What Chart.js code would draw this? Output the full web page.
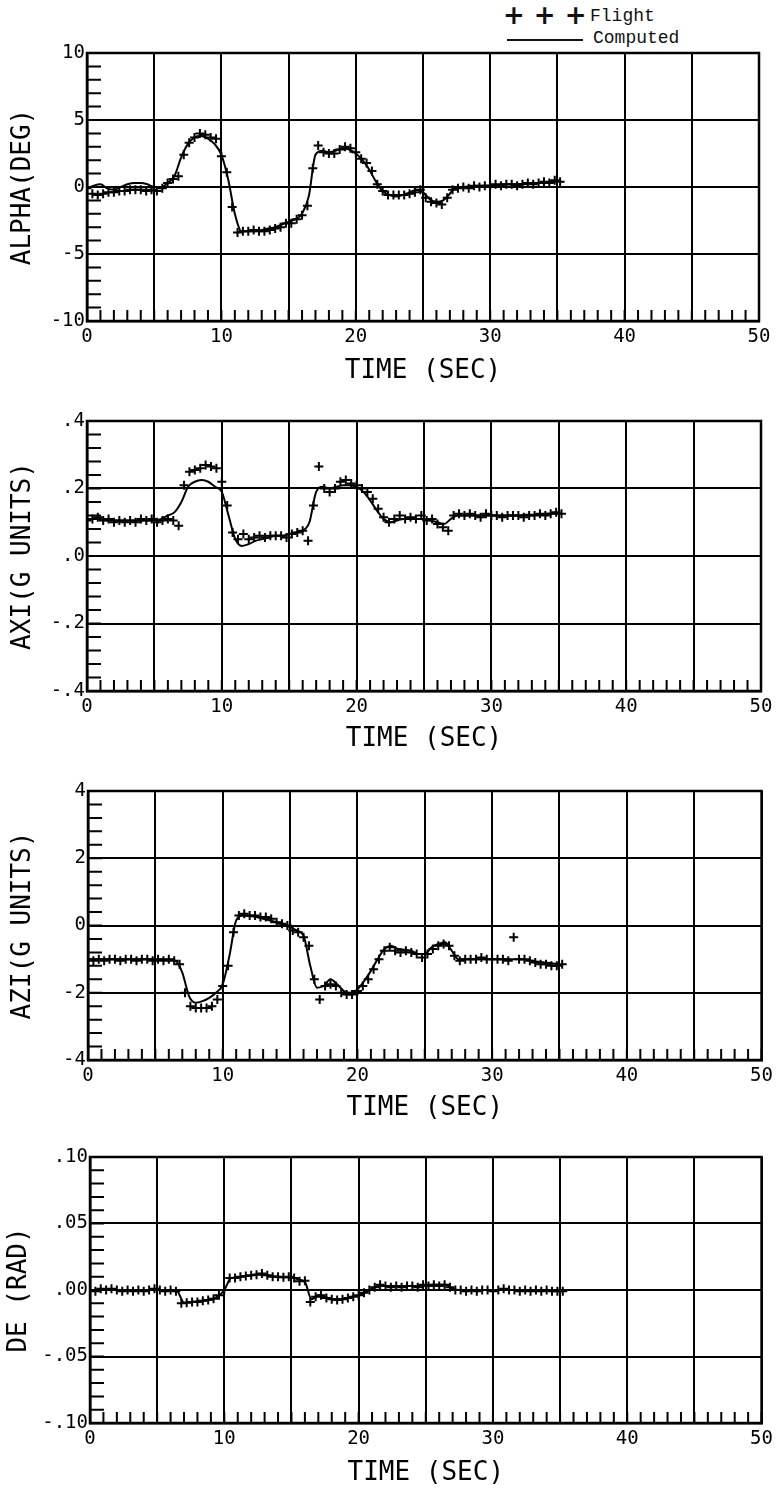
<!DOCTYPE html>
<html>
<head>
<meta charset="utf-8">
<script src="https://cdn.jsdelivr.net/npm/chart.js@4.4.1/dist/chart.umd.min.js"></script>
<style>
  html, body { margin: 0; padding: 0; background: #fff; }
  body { width: 778px; height: 1490px; overflow: hidden; position: relative; }
  canvas { position: absolute; left: 0; }
  .lg { position: absolute; color: #111; white-space: pre; }
  .lgtxt { font-family: 'Liberation Mono', 'DejaVu Sans Mono', monospace; font-size: 18px; line-height: 18px; }
  .plus { font-family: 'DejaVu Sans', sans-serif; font-weight: bold; font-size: 26px; line-height: 26px; }
  .lgline { position: absolute; height: 2px; background: #111; }
</style>
</head>
<body>
<div class="lg plus" style="left:503px;top:2px;">+ + +</div>
<div class="lg lgtxt" style="left:590px;top:7px;">Flight</div>
<div class="lgline" style="left:507px;top:39px;width:76px;"></div>
<div class="lg lgtxt" style="left:593px;top:29px;">Computed</div>

<script>
// ---------------- DATA ----------------
const TIME_FLIGHT = [0,0.4,0.8,1.2,1.6,2,2.4,2.8,3.2,3.6,4,4.4,4.8,5.2,5.6,6,6.4,6.8,7.2,7.6,
  8,8.4,8.8,9.2,9.6,10,10.4,10.8,11.2,11.6,12,12.4,12.8,13.2,13.6,14,14.4,14.8,15.2,15.6,
  16,16.4,16.8,17.2,17.6,18,18.4,18.8,19.2,19.6,20,20.4,20.8,21.2,21.6,22,22.4,22.8,23.2,23.6,
  24,24.4,24.8,25.2,25.6,26,26.4,26.8,27.2,27.6,28,28.4,28.8,29.2,29.6,30,30.4,30.8,31.2,31.6,
  32,32.4,32.8,33.2,33.6,34,34.4,34.8,35.2];

const TIME_COMPUTED = [0,0.5,1,1.5,2,2.5,3,3.5,4,4.5,5,5.5,6,6.5,7,7.5,8,8.5,9,9.5,
  10,10.5,11,11.5,12,12.5,13,13.5,14,14.5,15,15.5,16,16.5,17,17.5,18,18.5,19,19.5,
  20,20.5,21,21.5,22,22.5,23,23.5,24,24.5,25,25.5,26,26.5,27,27.5,28,28.5,29,29.5,
  30,30.5,31,31.5,32,32.5,33,33.5,34,34.5,35];

const ALPHA_FLIGHT = [-0.1,-0.5,-0.6,-0.5,-0.4,-0.4,-0.3,-0.3,-0.2,-0.2,-0.2,-0.3,-0.2,-0.3,-0.1,0.3,0.6,0.8,2.4,3.3,
  3.7,4.0,3.9,3.7,3.6,2.3,1.1,-1.5,-3.4,-3.3,-3.3,-3.2,-3.3,-3.3,-3.2,-3.1,-3.0,-2.7,-2.7,-2.4,
  -2.1,-1.4,1.4,3.1,2.6,2.5,2.5,2.8,3.0,2.9,2.6,2.1,1.8,1.2,0.2,-0.3,-0.6,-0.6,-0.6,-0.6,
  -0.5,-0.4,-0.2,-0.8,-1.1,-1.2,-1.3,-0.8,-0.2,-0.1,0.0,-0.1,0.1,0.0,0.1,0.1,0.2,0.1,0.2,0.2,
  0.1,0.2,0.3,0.2,0.3,0.4,0.3,0.5,0.4];
const ALPHA_COMPUTED = [-0.1,0.1,0.2,-0.1,-0.2,0.0,0.2,0.3,0.3,0.2,0.0,0.0,0.3,0.8,2.2,3.2,3.7,3.8,3.6,3.2,
  2.4,0.6,-2.0,-3.3,-3.3,-3.3,-3.2,-3.1,-3.0,-2.8,-2.6,-2.4,-2.0,-0.7,2.4,2.7,2.6,2.7,2.9,2.8,
  2.5,2.0,1.3,0.4,-0.3,-0.6,-0.7,-0.6,-0.4,-0.2,-0.4,-0.9,-1.1,-1.0,-0.5,0.0,0.0,0.05,0.1,0.1,
  0.1,0.15,0.2,0.2,0.2,0.25,0.3,0.3,0.35,0.4,0.4];

const AXI_FLIGHT = [0.105,0.11,0.115,0.105,0.11,0.10,0.105,0.10,0.105,0.10,0.11,0.105,0.11,0.10,0.105,0.11,0.105,0.09,0.21,0.25,
  0.255,0.26,0.27,0.265,0.26,0.22,0.15,0.07,0.05,0.065,0.05,0.055,0.06,0.055,0.06,0.06,0.06,0.055,0.065,0.07,
  0.075,0.045,0.15,0.265,0.20,0.19,0.20,0.22,0.225,0.215,0.21,0.20,0.19,0.17,0.14,0.115,0.10,0.11,0.12,0.11,
  0.115,0.11,0.12,0.105,0.11,0.095,0.085,0.075,0.12,0.125,0.12,0.125,0.12,0.115,0.125,0.12,0.12,0.115,0.12,0.12,
  0.12,0.115,0.12,0.12,0.125,0.12,0.125,0.13,0.125];
const AXI_COMPUTED = [0.11,0.11,0.11,0.105,0.105,0.105,0.105,0.105,0.105,0.105,0.105,0.11,0.12,0.13,0.16,0.205,0.22,0.225,0.22,0.205,
  0.19,0.12,0.05,0.03,0.035,0.045,0.05,0.055,0.06,0.06,0.065,0.07,0.075,0.10,0.19,0.205,0.20,0.205,0.21,0.21,
  0.205,0.19,0.165,0.135,0.11,0.10,0.105,0.11,0.11,0.11,0.11,0.105,0.10,0.095,0.11,0.12,0.12,0.12,0.12,0.12,
  0.12,0.12,0.12,0.12,0.12,0.122,0.122,0.124,0.125,0.126,0.127];

const AZI_FLIGHT = [-1.0,-1.05,-1.0,-1.05,-1.0,-1.0,-1.05,-1.0,-1.0,-1.05,-1.0,-1.0,-1.05,-1.0,-1.05,-1.0,-1.05,-1.15,-2.0,-2.4,
  -2.45,-2.45,-2.45,-2.4,-2.2,-1.8,-1.2,-0.2,0.3,0.35,0.3,0.3,0.25,0.25,0.2,0.1,0.05,0.0,-0.15,-0.2,
  -0.35,-0.6,-1.6,-2.2,-1.8,-1.75,-1.8,-2.0,-2.05,-2.05,-1.95,-1.8,-1.6,-1.3,-1.0,-0.75,-0.65,-0.75,-0.8,-0.75,
  -0.8,-0.85,-0.95,-0.85,-0.7,-0.6,-0.55,-0.6,-0.9,-1.05,-1.0,-1.0,-1.0,-0.95,-1.0,-1.0,-1.0,-1.0,-1.05,-0.35,
  -1.0,-1.0,-1.05,-1.1,-1.15,-1.15,-1.2,-1.2,-1.15];
const AZI_COMPUTED = [-1.0,-1.0,-1.0,-1.0,-1.0,-1.0,-1.0,-1.0,-1.0,-1.0,-1.0,-1.0,-1.02,-1.05,-1.4,-2.1,-2.3,-2.25,-2.15,-2.0,
  -1.75,-0.9,0.15,0.3,0.28,0.25,0.2,0.15,0.1,0.03,-0.05,-0.15,-0.3,-1.2,-1.85,-1.8,-1.6,-1.75,-1.95,-2.0,
  -1.9,-1.65,-1.35,-1.0,-0.7,-0.6,-0.7,-0.72,-0.75,-0.85,-0.85,-0.65,-0.55,-0.5,-0.75,-1.0,-1.0,-1.0,-1.0,-1.0,
  -1.0,-1.0,-1.0,-1.0,-1.0,-1.02,-1.05,-1.08,-1.1,-1.13,-1.15];

const DE_FLIGHT = [0.000,-0.001,0.001,0.000,0.001,0.000,-0.001,0.000,-0.001,0.000,-0.001,0.000,0.001,0.000,-0.001,0.000,-0.001,-0.010,-0.0095,-0.009,
  -0.009,-0.008,-0.0075,-0.0065,-0.004,0.000,0.009,0.009,0.010,0.0105,0.011,0.0115,0.0125,0.011,0.010,0.010,0.0095,0.010,0.009,0.0065,
  0.007,-0.009,-0.005,-0.004,-0.006,-0.007,-0.0075,-0.007,-0.006,-0.005,-0.004,-0.002,0.000,0.002,0.004,0.003,0.002,0.003,0.002,0.003,
  0.003,0.002,0.004,0.003,0.004,0.003,0.004,0.002,0.000,0.000,-0.001,0.000,-0.001,0.000,0.000,-0.001,0.000,0.001,0.000,0.000,
  -0.001,0.000,-0.001,0.000,-0.001,0.000,-0.001,-0.001,-0.001];
const DE_COMPUTED = [0,0,0,0,0,0,0,0,0,0,0,0,0,-0.001,-0.0095,-0.009,-0.0085,-0.008,-0.007,-0.005,
  0.0,0.009,0.0095,0.0105,0.011,0.012,0.0115,0.0105,0.010,0.0095,0.0095,0.008,0.006,-0.007,-0.004,-0.005,-0.007,-0.007,-0.0065,-0.005,
  -0.004,-0.0015,0.001,0.003,0.003,0.003,0.003,0.003,0.003,0.003,0.0035,0.004,0.004,0.004,0.001,0,0,0,0,0,
  0,0,0,0,0,0,0,0,0,-0.0005,-0.0005];

const TIME_TICK_LABELS = ['0','10','20','30','40','50'];
const ALPHA_TICK_LABELS = ['-10','-5','0','5','10'];
const AXI_TICK_LABELS = ['-.4','-.2','.0','.2','.4'];
const AZI_TICK_LABELS = ['-4','-2','0','2','4'];
const DE_TICK_LABELS = ['-.10','-.05','.00','.05','.10'];

const TIME_TITLE = 'TIME (SEC)';
const Y_TITLES = ['ALPHA(DEG)', 'AXI(G UNITS)', 'AZI(G UNITS)', 'DE (RAD)'];

// ---------------- LAYOUT ----------------
const PANELS = [
  { flight: ALPHA_FLIGHT, computed: ALPHA_COMPUTED, labels: ALPHA_TICK_LABELS, min: -10, max: 10, step: 5, minor: 1,
    top: 53, bottom: 321, left: 87, right: 759, titleCenter: 370, ytitlePad: 8 },
  { flight: AXI_FLIGHT, computed: AXI_COMPUTED, labels: AXI_TICK_LABELS, min: -0.4, max: 0.4, step: 0.2, minor: 0.04,
    top: 421, bottom: 691, left: 87, right: 761, titleCenter: 738, ytitlePad: 8 },
  { flight: AZI_FLIGHT, computed: AZI_COMPUTED, labels: AZI_TICK_LABELS, min: -4, max: 4, step: 2, minor: 0.4,
    top: 791, bottom: 1060, left: 88, right: 762, titleCenter: 1107, ytitlePad: 8 },
  { flight: DE_FLIGHT, computed: DE_COMPUTED, labels: DE_TICK_LABELS, min: -0.1, max: 0.1, step: 0.05, minor: 0.01,
    top: 1157, bottom: 1423, left: 90, right: 766, titleCenter: 1472, ytitlePad: 4 },
];

const PAD_TOP = 14;
const XSCALE_H = 72;
const TICK_FONT = { family: "'DejaVu Sans Mono', monospace", size: 19 };
const TITLE_FONT = { family: "'DejaVu Sans Mono', monospace", size: 26 };

const minorTicks = {
  id: 'minorTicks',
  beforeDatasetsDraw(chart, args, opts) {
    const { ctx, chartArea: a, scales: { x, y } } = chart;
    ctx.save();
    ctx.strokeStyle = '#000';
    ctx.lineWidth = 2;
    ctx.beginPath();
    const nx = Math.round((x.max - x.min) / opts.xStep);
    for (let i = 0; i <= nx; i++) {
      const px = x.getPixelForValue(x.min + i * opts.xStep);
      ctx.moveTo(px, a.bottom);
      ctx.lineTo(px, a.bottom - opts.xLen);
    }
    const ny = Math.round((y.max - y.min) / opts.yStep);
    for (let i = 0; i <= ny; i++) {
      const py = y.getPixelForValue(y.min + i * opts.yStep);
      ctx.moveTo(a.left, py);
      ctx.lineTo(a.left + opts.yLen, py);
    }
    ctx.stroke();
    ctx.restore();
  },
  afterDraw(chart) {
    const { ctx, chartArea: a } = chart;
    ctx.save();
    ctx.strokeStyle = '#000';
    ctx.lineWidth = 2.5;
    ctx.strokeRect(a.left, a.top, a.right - a.left, a.bottom - a.top);
    ctx.restore();
  }
};

PANELS.forEach((p, idx) => {
  const cv = document.createElement('canvas');
  const top = p.top - PAD_TOP;
  const h = PAD_TOP + (p.bottom - p.top) + XSCALE_H;
  cv.width = 778; cv.height = h;
  cv.style.width = '778px'; cv.style.height = h + 'px';
  cv.style.top = top + 'px';
  document.body.appendChild(cv);

  const titleLH = TITLE_FONT.size * 1.2;
  const titlePadBottom = Math.max(0, XSCALE_H - titleLH / 2 - (p.titleCenter + 1.5 - p.bottom));

  const flightPts = TIME_FLIGHT.map((t, i) => ({ x: t, y: p.flight[i] })).filter(d => d.y !== undefined);
  const compPts = TIME_COMPUTED.map((t, i) => ({ x: t, y: p.computed[i] })).filter(d => d.y !== undefined);

  new Chart(cv, {
    type: 'scatter',
    data: {
      datasets: [
        { label: 'Computed', type: 'line', data: compPts, borderColor: '#000', borderWidth: 2,
          pointRadius: 0, showLine: true, fill: false, cubicInterpolationMode: 'monotone' },
        { label: 'Flight', data: flightPts, pointStyle: 'cross', pointRadius: 4.5,
          pointBorderWidth: 2, borderColor: '#000', backgroundColor: '#000', showLine: false },
      ]
    },
    options: {
      responsive: false,
      animation: false,
      devicePixelRatio: 1,
      layout: { padding: { top: PAD_TOP, left: 0, right: 778 - p.right, bottom: 0 } },
      plugins: {
        legend: { display: false },
        tooltip: { enabled: false },
        minorTicks: { xStep: 1, xLen: 11, yStep: p.minor, yLen: 14 },
      },
      scales: {
        x: {
          type: 'linear', min: 0, max: 50,
          afterFit(s) { s.height = XSCALE_H; },
          grid: { color: '#000', lineWidth: 2, drawTicks: false },
          border: { display: true, color: '#000', width: 2.5 },
          ticks: {
            stepSize: 5, autoSkip: false, maxRotation: 0, padding: 5, color: '#000', font: TICK_FONT,
            callback: (v) => (Math.abs(v % 10) < 1e-9 ? TIME_TICK_LABELS[Math.round(v / 10)] : '')
          },
          title: { display: true, text: TIME_TITLE, color: '#000', font: TITLE_FONT,
                   padding: { top: 0, bottom: titlePadBottom } }
        },
        y: {
          type: 'linear', min: p.min, max: p.max,
          afterFit(s) { s.width = p.left; },
          grid: { color: '#000', lineWidth: 2, drawTicks: false },
          border: { display: true, color: '#000', width: 2.5 },
          ticks: {
            stepSize: p.step, autoSkip: false, padding: 2, color: '#000', font: TICK_FONT,
            callback: (v) => p.labels[Math.round((v - p.min) / p.step)]
          },
          title: { display: true, text: Y_TITLES[idx], color: '#000', font: TITLE_FONT,
                   padding: { top: p.ytitlePad, bottom: 0 } }
        }
      }
    },
    plugins: [minorTicks]
  });
});
</script>
</body>
</html>
